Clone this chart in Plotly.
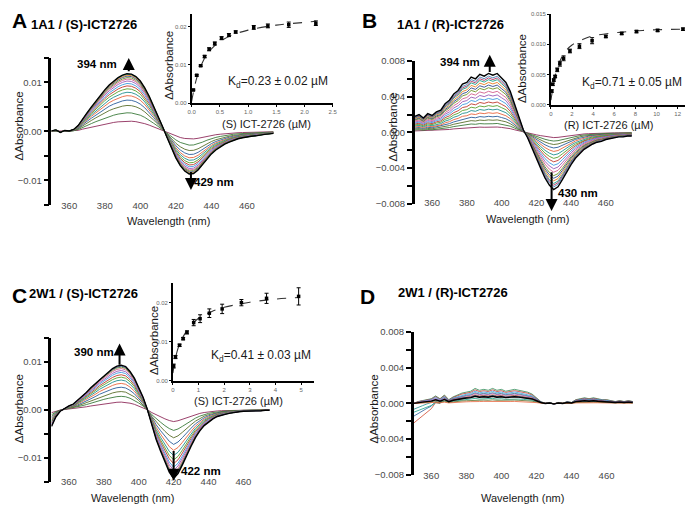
import plotly.graph_objects as go

W, H = 693, 510
OFF = 8  # the page body margin shifts the figure by this many pixels
FONT = "Liberation Sans, Arial, sans-serif"

# wavelength grid of the difference spectra (nm)
wavelength = [350.0, 352.5, 355.0, 357.5, 360.0, 362.5, 365.0, 367.5, 370.0, 372.5,
              375.0, 377.5, 380.0, 382.5, 385.0, 387.5, 390.0, 392.5, 395.0, 397.5,
              400.0, 402.5, 405.0, 407.5, 410.0, 412.5, 415.0, 417.5, 420.0, 422.5,
              425.0, 427.5, 430.0, 432.5, 435.0, 437.5, 440.0, 442.5, 445.0, 447.5,
              450.0, 452.5, 455.0, 457.5, 460.0, 462.5, 465.0, 467.5, 470.0, 472.5,
              475.0]

# outermost spectrum of each titration (dAbs x 1e-3)
spec_a = [0.1, 0.3, -0.2, 0.2, 0.1, 0.4, 1.2, 2.6, 3.8, 5.0, 6.2, 7.3, 8.5, 9.5, 10.3,
          11.0, 11.5, 11.8, 11.7, 11.2, 10.3, 8.9, 7.2, 5.2, 3.2, 1.0, -1.2, -3.5, -5.4,
          -7.0, -8.1, -8.7, -8.6, -7.9, -6.8, -5.6, -4.6, -3.8, -3.2, -2.6, -2.2, -1.8,
          -1.5, -1.3, -1.1, -1.0, -0.9, -0.7, -0.6, -0.5, -0.4]
spec_b = [1.8, 2.0, 1.6, 2.1, 1.9, 2.3, 2.5, 3.2, 3.6, 4.3, 4.7, 5.4, 5.6, 6.2, 6.0,
          6.5, 6.3, 6.6, 6.4, 6.6, 6.1, 5.6, 4.6, 3.2, 1.8, 0.3, -0.6, -1.8, -3.0,
          -4.0, -5.1, -5.9, -6.4, -6.1, -5.3, -4.4, -3.6, -2.9, -2.4, -1.9, -1.6, -1.3,
          -1.1, -1.0, -0.8, -0.7, -0.6, -0.5, -0.5, -0.4, -0.4]
spec_c = [-3.5, -1.5, -0.3, 0.3, 0.8, 1.2, 2.0, 2.8, 3.6, 4.6, 5.4, 6.4, 7.2, 7.9, 8.6,
          9.1, 9.3, 9.0, 8.0, 6.6, 4.7, 2.6, 0.0, -3.4, -6.2, -8.6, -11.0, -13.0, -14.3,
          -13.3, -11.5, -9.4, -7.6, -5.8, -4.4, -3.3, -2.5, -1.9, -1.4, -1.1, -0.9, -0.7,
          -0.5, -0.4, -0.3, -0.3, -0.2, -0.2, -0.2, -0.1, -0.1]
spec_d_bump = [0.0, 0.2, 0.3, 0.4, 0.5, 0.8, 0.5, 0.9, 0.4, 0.7, 0.9, 1.1, 1.2, 1.3, 1.6,
               1.4, 1.5, 1.4, 1.6, 1.4, 1.5, 1.3, 1.4, 1.5, 1.4, 1.3, 1.2, 1.0, 0.6,
               0.2, 0.0, 0.1, -0.1, 0.1, 0.0, 0.2, 0.1, 0.4, 0.5, 0.6, 0.5, 0.6, 0.5,
               0.4, 0.4, 0.3, 0.2, 0.3, 0.2, 0.3, 0.2]
spec_d_dip = [-2.2, -1.9, -1.6, -1.2, -0.9, -0.4, -0.3, 0.0] + [0.0] * 43

# peak heights of the successive spectra (dAbs x 1e-3)
peaks_a = [2.1, 3.8, 5.3, 6.4, 7.3, 8.0, 8.7, 9.3, 9.8, 10.3, 10.7, 11.0, 11.3, 11.5, 11.7, 11.8]
peaks_b = [0.6, 1.0, 1.4, 1.8, 2.2, 2.6, 3.0, 3.4, 3.8, 4.2, 4.6, 5.0, 5.3, 5.6, 5.9, 6.1, 6.3, 6.6]
peaks_c = [1.6, 2.8, 3.8, 4.7, 5.5, 6.2, 6.8, 7.3, 7.8, 8.2, 8.6, 8.9, 9.1, 9.3]
# 2W1 / (R): weights of the broad bump and of the short-wavelength dip
bump_d = [1.05, 0.95, 0.85, 0.75, 0.7, 0.6, 0.5, 0.55, 0.35, 0.25, 0.15, 0.5]
dip_d = [0.0, 0.0, 0.0, 0.3, 0.0, 1.0, 0.0, 0.65, 0.45, 0.0, 0.0, 0.0]

# binding curves (insets)
sa_conc = [0.03, 0.09, 0.16, 0.23, 0.31, 0.41, 0.53, 0.66, 0.78, 1.1, 1.35, 1.72, 2.2]
sa_abs = [0.0035, 0.0073, 0.0098, 0.0122, 0.0141, 0.0156, 0.0170, 0.0178, 0.0186,
          0.0198, 0.0202, 0.0205, 0.0209]
sa_err = [0.0002, 0.0002, 0.0002, 0.0003, 0.0004, 0.0004, 0.0004, 0.0004, 0.0003,
          0.0005, 0.0005, 0.0007, 0.0006]
sa_fit_x = [0, 0.05, 0.1, 0.2, 0.3, 0.4, 0.5, 0.7, 1.0, 1.5, 2.0, 2.2]
sa_fit_y = [0.0005, 0.0042, 0.0071, 0.0109, 0.0133, 0.0149, 0.0161, 0.0177, 0.0191,
            0.0204, 0.0211, 0.0214]

rb_conc = [0.08, 0.17, 0.27, 0.4, 0.6, 0.85, 1.2, 1.8, 2.7, 3.9, 5.2, 6.7, 8.1, 10.1, 12.5]
rb_abs = [0.0023, 0.0034, 0.0041, 0.0047, 0.0058, 0.0068, 0.0077, 0.0089, 0.0097,
          0.0106, 0.0113, 0.0118, 0.0121, 0.0123, 0.0125]
rb_err = [0.0002, 0.0002, 0.0002, 0.0002, 0.0003, 0.0004, 0.0004, 0.0003, 0.0004,
          0.0005, 0.0002, 0.0002, 0.0002, 0.0002, 0.0002]
rb_fit_x = [0, 0.1, 0.25, 0.5, 1, 1.5, 2, 3, 4, 6, 8, 10, 12.5]
rb_fit_y = [0.0008, 0.0019, 0.0035, 0.0055, 0.0078, 0.0091, 0.0099, 0.0108, 0.0114,
            0.0119, 0.0122, 0.0124, 0.0125]

sc_conc = [0.03, 0.1, 0.26, 0.4, 0.55, 0.81, 1.06, 1.42, 1.92, 2.67, 3.65, 4.9]
sc_abs = [0.0038, 0.0061, 0.0091, 0.0108, 0.0124, 0.0149, 0.0159, 0.0173, 0.0184,
          0.0200, 0.0211, 0.0216]
sc_err = [0.0005, 0.0004, 0.0003, 0.0003, 0.0004, 0.0008, 0.0010, 0.0011, 0.0012,
          0.0008, 0.0013, 0.0022]
sc_fit_x = [0, 0.05, 0.1, 0.2, 0.3, 0.5, 0.75, 1.0, 1.5, 2.0, 3.0, 4.0, 4.9]
sc_fit_y = [0.0020, 0.0040, 0.0058, 0.0083, 0.0100, 0.0124, 0.0145, 0.0160, 0.0177,
            0.0188, 0.0201, 0.0209, 0.0213]

palette = ["#8e2d5b", "#3b7a3b", "#5a6e2a", "#2b5d9b", "#e8643c", "#1f8f8f",
           "#5aa02c", "#c0392b", "#3d9be0", "#9b59b6", "#d35f8d", "#6b8e23",
           "#2e4a8b", "#e67e22", "#16a085", "#b03060", "#4682b4"]


def fx(px):
    return min(max((px - OFF) / W, 0.0), 1.0)


def fy(py):
    return min(max(1 - (py - OFF) / H, 0.0), 1.0)


fig = go.Figure()


def add_line(x, y, color, width, xa, ya):
    fig.add_trace(go.Scatter(x=x, y=y, mode="lines", xaxis=xa, yaxis=ya,
                             line=dict(color=color, width=width),
                             showlegend=False, hoverinfo="skip"))


def add_titration(profile, peaks, xa, ya):
    top = max(profile)
    for i, p in enumerate(peaks):
        last = i == len(peaks) - 1
        y = [v * p / top * 1e-3 for v in profile]
        add_line(wavelength, y, "black" if last else palette[i % len(palette)],
                 1.4 if last else 0.9, xa, ya)


add_titration(spec_a, peaks_a, "x", "y")
add_titration(spec_b, peaks_b, "x2", "y2")
add_titration(spec_c, peaks_c, "x3", "y3")

d_colors = ["#2e8b57", "#c0392b", "#3d9be0", "#1f8f8f", "#9b59b6", "#d04a30",
            "#8e2d5b", "#2b5d9b", "#16a085", "#5a6e2a", "#e8643c"]
for i, (b, d) in enumerate(zip(bump_d, dip_d)):
    last = i == len(bump_d) - 1
    y = [(b * u + d * v) * 1e-3 for u, v in zip(spec_d_bump, spec_d_dip)]
    add_line(wavelength, y, "black" if last else d_colors[i % len(d_colors)],
             1.4 if last else 0.8, "x4", "y4")


def add_binding(cx, cy, err, fit_x, fit_y, xa, ya):
    fig.add_trace(go.Scatter(x=fit_x, y=fit_y, mode="lines", xaxis=xa, yaxis=ya,
                             line=dict(color="#333333", width=1.1, dash="dash", shape="spline"),
                             showlegend=False, hoverinfo="skip"))
    fig.add_trace(go.Scatter(x=cx, y=cy, mode="markers", xaxis=xa, yaxis=ya,
                             marker=dict(color="black", size=3.5, symbol="square"),
                             error_y=dict(type="data", array=err, color="black",
                                          thickness=1, width=2),
                             showlegend=False, hoverinfo="skip"))


add_binding(sa_conc, sa_abs, sa_err, sa_fit_x, sa_fit_y, "x5", "y5")
add_binding(rb_conc, rb_abs, rb_err, rb_fit_x, rb_fit_y, "x6", "y6")
add_binding(sc_conc, sc_abs, sc_err, sc_fit_x, sc_fit_y, "x7", "y7")

layout = dict(
    width=W, height=H, margin=dict(l=0, r=0, t=0, b=0),
    paper_bgcolor="white", plot_bgcolor="rgba(0,0,0,0)",
    font=dict(family=FONT, color="#222222"), showlegend=False,
)

# main panels: x domain px, y domain px, y range, label dtick, minor dtick, format,
# label-axis px, zero-line px
mains = [
    ((48, 273), (53, 203), (-0.015, 0.015), 0.01, 0.005, ".2f", 197, 128),
    ((416, 636), (56, 202), (-0.008, 0.008), 0.004, 0.002, ".3f", 194, 129),
    ((48, 269), (339, 486), (-0.015, 0.015), 0.01, 0.005, ".2f", 479, 412.5),
    ((415, 637), (333, 479), (-0.008, 0.008), 0.004, 0.002, ".3f", 473, 406),
]
tickfont_main = dict(family=FONT, size=9.5, color="#4a4a4a")
for k, (xd, yd, yr, dt, mn, fmt, lab, zero) in enumerate(mains, start=1):
    sfx = "" if k == 1 else str(k)
    layout["xaxis" + sfx] = dict(
        domain=[fx(xd[0]), fx(xd[1])], range=[350, 475], anchor="free",
        position=fy(lab), showline=False, ticks="", showgrid=False, zeroline=False,
        tickvals=[360, 380, 400, 420, 440, 460], tickfont=tickfont_main,
    )
    layout["yaxis" + sfx] = dict(
        domain=[fy(yd[1]), fy(yd[0])], range=list(yr), anchor="x" + sfx,
        showline=True, linewidth=2.5, linecolor="black", ticks="outside",
        ticklen=5, tickwidth=2, tickcolor="black", dtick=dt, tickformat=fmt,
        minor=dict(dtick=mn, ticks="outside", ticklen=5, tickwidth=2, tickcolor="black"),
        showgrid=False, zeroline=False, tickfont=tickfont_main,
    )
    layout["xaxis" + str(7 + k)] = dict(
        overlaying="x" + sfx, range=[350, 475], anchor="free", position=fy(zero),
        showline=True, linewidth=2.5, linecolor="black", ticks="outside",
        ticklen=4, tickwidth=2, tickcolor="black", tick0=350, dtick=10,
        showticklabels=False, showgrid=False, zeroline=False,
    )

# insets (the top of the first two is held at the page edge)
tickfont_in = dict(family=FONT, size=6, color="#666666")
insets = [
    ((190, 333), (8, 99.3), (0, 2.5), 0.5, ".1f", (0, 0.0233), 0.01, ".2f"),
    ((554, 691), (8, 101), (0, 12.8), 2, "d", (0, 0.015), 0.005, ".3f"),
    ((171, 314), (283, 383), (0, 5.5), 1, "d", (0, 0.025), 0.01, ".2f"),
]
for k, (xd, yd, xr, xdt, xf, yr, ydt, yf) in enumerate(insets, start=5):
    common = dict(showline=True, linewidth=1.5, linecolor="black", ticks="outside",
                  ticklen=2, tickwidth=1, tickcolor="black", showgrid=False,
                  zeroline=False, tickfont=tickfont_in)
    layout["xaxis" + str(k)] = dict(domain=[fx(xd[0]), fx(xd[1])], range=list(xr),
                                    anchor="y" + str(k), dtick=xdt, tickformat=xf, **common)
    layout["yaxis" + str(k)] = dict(domain=[fy(yd[1]), fy(yd[0])], range=list(yr),
                                    anchor="x" + str(k), dtick=ydt, tickformat=yf, **common)

fig.update_layout(**layout)


def text(px, py, s, size, bold=False, angle=0, color="#1a1a1a"):
    fig.add_annotation(x=fx(px), y=fy(py), xref="paper", yref="paper", text=s,
                       showarrow=False, textangle=angle, xanchor="center",
                       yanchor="middle", font=dict(family=FONT, size=size, color=color,
                                                    weight="bold" if bold else "normal"))


def arrow(xa, ya, x, tip, base):
    fig.add_annotation(x=x, y=tip, ax=x, ay=base, xref=xa, yref=ya, axref=xa, ayref=ya,
                       text="", showarrow=True, arrowhead=2, arrowsize=1.2,
                       arrowwidth=2, arrowcolor="black")


# panel letters and titles
text(16, 15, "A", 21, True, color="black")
text(81, 19, "1A1 / (S)-ICT2726", 13, True, color="black")
text(370, 15, "B", 21, True, color="black")
text(452, 19, "1A1 / (R)-ICT2726", 13, True, color="black")
text(16, 296, "C", 21, True, color="black")
text(80, 294, "2W1 / (S)-ICT2726", 13, True, color="black")
text(368, 297, "D", 21, True, color="black")
text(455, 293, "2W1 / (R)-ICT2726", 13, True, color="black")

# main axis titles
for px, py in [(15, 122), (394, 123), (15, 411), (375, 412)]:
    text(px, py, "ΔAbsorbance", 11.5, angle=-90)
for px, py in [(167, 220), (530, 218), (130, 503), (525, 503)]:
    text(px, py, "Wavelength (nm)", 11)

# inset axis titles and Kd
text(266, 120, "(S) ICT-2726 (µM)", 11)
text(167, 60, "ΔAbsorbance", 11.5, angle=-90)
text(278, 77, "K<sub>d</sub>=0.23 ± 0.02 µM", 12)
text(612, 121, "(R) ICT-2726 (µM)", 11)
text(525, 64, "ΔAbsorbance", 11.5, angle=-90)
text(636, 79, "K<sub>d</sub>=0.71 ± 0.05 µM", 12)
text(237, 404, "(S) ICT-2726 (µM)", 11)
text(152, 342, "ΔAbsorbance", 11.5, angle=-90)
text(260, 358, "K<sub>d</sub>=0.41 ± 0.03 µM", 12)

# wavelength arrows
arrow("x", "y", 393.5, 0.0150, 0.0120)
arrow("x", "y", 428.5, -0.0120, -0.0080)
text(94, 59, "394 nm", 11.5, True, color="black")
text(213, 180, "429 nm", 11.5, True, color="black")
arrow("x2", "y2", 393.2, 0.0087, 0.0066)
arrow("x2", "y2", 428.8, -0.0088, -0.0043)
text(462, 57, "394 nm", 11.5, True, color="black")
text(581, 191, "430 nm", 11.5, True, color="black")
arrow("x3", "y3", 389, 0.0138, 0.0091)
arrow("x3", "y3", 420, -0.0148, -0.0083)
text(91, 353, "390 nm", 11.5, True, color="black")
text(199, 475, "422 nm", 11.5, True, color="black")

fig.write_html("out.html")
